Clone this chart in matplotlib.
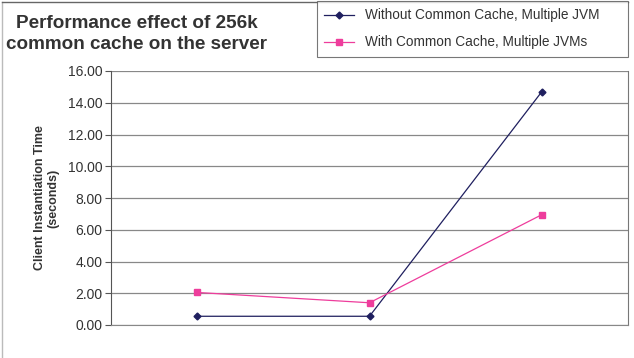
import matplotlib.pyplot as plt
from matplotlib.lines import Line2D

categories = ['A', 'B', 'C']
without_cache = [0.55, 0.55, 14.7]
with_cache = [2.05, 1.4, 6.95]
yticks = [0, 2, 4, 6, 8, 10, 12, 14, 16]

plt.rcParams['font.family'] = ['Liberation Sans', 'DejaVu Sans']

fig = plt.figure(figsize=(6.34, 3.58), dpi=100)
W, H = 634, 358
ax = fig.add_axes([111 / W, 1 - 325 / H, (628 - 111) / W, (325 - 71) / H])

x = range(len(categories))
ax.plot(x, without_cache, color='#1f1f5f', marker='D', markersize=3.5, linewidth=0.9,
        label='Without Common Cache, Multiple JVM')
ax.plot(x, with_cache, color='#ee3d9c', marker='s', markersize=5, linewidth=0.9,
        label='With Common Cache, Multiple JVMs')

ax.set_xlim(-0.5, 2.5)
ax.set_ylim(0, 16)
ax.set_yticks(yticks)
ax.set_yticklabels([f'{v:.2f}' for v in yticks], fontsize=10, color='#333333')
ax.set_xticks([])
ax.yaxis.grid(True, color='#888888', linewidth=0.9)
ax.set_axisbelow(True)
ax.spines['top'].set_visible(False)
ax.spines['left'].set_color('#555555')
ax.spines['bottom'].set_color('#888888')
ax.spines['right'].set_color('#777777')
ax.tick_params(axis='y', length=4, color='#555555', pad=2)

ax.set_ylabel('Client Instantiation Time\n(seconds)', fontsize=9, fontweight='bold',
              color='#333333', labelpad=6)

fig.text(137 / W, 1 - 34 / H, 'Performance effect of 256k\ncommon cache on the server',
         fontsize=13.6, fontweight='bold', color='#333333', va='center', ha='center',
         linespacing=1.35)

leg = fig.legend(loc='upper left', bbox_to_anchor=(317 / W, 1 - 1 / H, (628 - 317) / W, 0),
                 mode='expand', fontsize=9.8, frameon=True, fancybox=False,
                 edgecolor='#555555', handlelength=2.2, borderpad=0.55, labelspacing=0.95,
                 borderaxespad=0)
leg.get_frame().set_linewidth(0.8)
for t in leg.get_texts():
    t.set_color('#333333')

fig.lines.append(Line2D([1.5 / W, 1.5 / W], [0, 1 - 1.5 / H], transform=fig.transFigure,
                        color='#bbbbbb', linewidth=1))
fig.lines.append(Line2D([1.5 / W, 628 / W], [1 - 1.5 / H, 1 - 1.5 / H],
                        transform=fig.transFigure, color='#666666', linewidth=1))

fig.savefig('out.png', dpi=100)
